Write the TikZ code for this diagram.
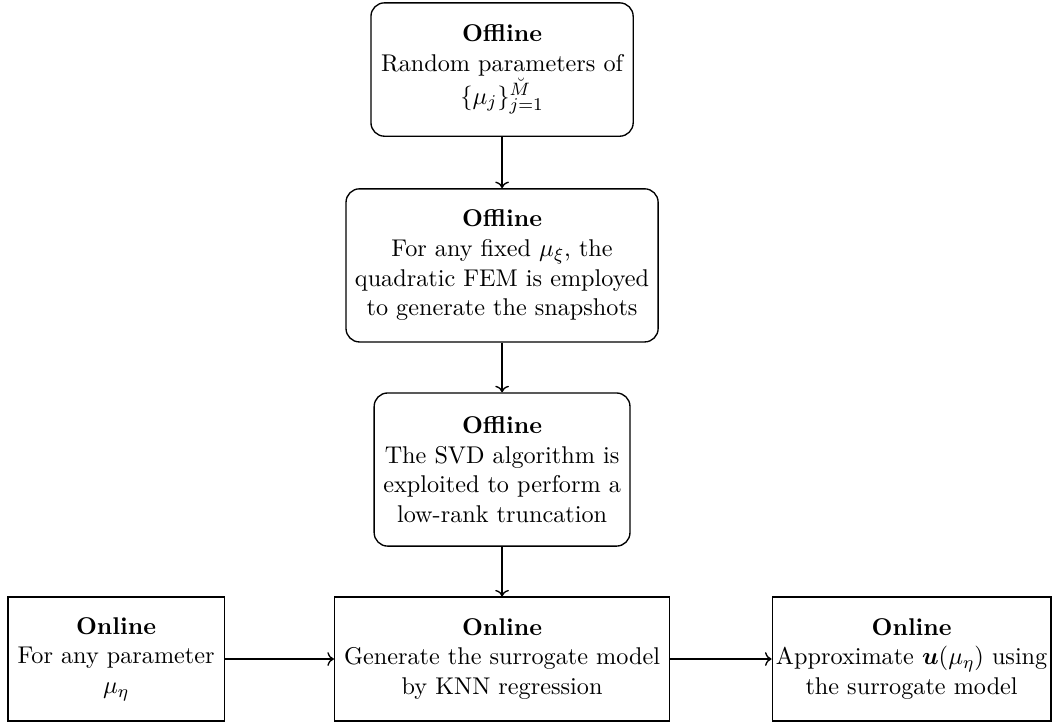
\documentclass[tikz,border=0pt]{standalone}
\usepackage{amsmath, amssymb}
\usetikzlibrary{arrows.meta, positioning}
\tikzset{
  offbox/.style = {draw, semithick, rounded corners=6pt, align=center,
                   inner sep=4pt, font=\fontsize{10.8}{13.2}\selectfont},
  onbox/.style  = {draw, semithick, align=center, inner sep=4pt,
                   inner xsep=1pt, font=\fontsize{10.8}{13.2}\selectfont},
  arrow/.style  = {->, semithick},
}
\begin{document}
\begin{tikzpicture}
  \useasboundingbox (0,0) rectangle (16.60,-11.37);
  % offline stage
  \node[offbox, minimum width=4.11cm, minimum height=2.09cm] (rand) at (7.87,-1.09)
    {\textbf{Offline}\\Random parameters of\\$\{\mu_j\}_{j=1}^{\breve{M}}$};
  \node[offbox, minimum width=4.89cm, minimum height=2.40cm] (fem) at (7.87,-4.16)
    {\textbf{Offline}\\For any fixed $\mu_{\xi}$, the\\quadratic FEM is employed\\to generate the snapshots};
  \node[offbox, minimum width=4.01cm, minimum height=2.40cm] (svd) at (7.87,-7.36)
    {\textbf{Offline}\\The SVD algorithm is\\exploited to perform a\\low-rank truncation};
  % online stage
  \node[onbox, minimum width=3.39cm, minimum height=1.94cm] (param) at (1.82,-10.33)
    {\textbf{Online}\\For any parameter\\$\mu_{\eta}$};
  \node[onbox, minimum width=5.25cm, minimum height=1.94cm] (knn) at (7.87,-10.33)
    {\textbf{Online}\\Generate the surrogate model\\by KNN regression};
  \node[onbox, minimum width=4.37cm, minimum height=1.94cm] (approx) at (14.29,-10.33)
    {\textbf{Online}\\Approximate $\boldsymbol{u}(\mu_{\eta})$ using\\the surrogate model};
  % connectors
  \draw[arrow] (rand) -- (fem);
  \draw[arrow] (fem) -- (svd);
  \draw[arrow] (svd) -- (knn);
  \draw[arrow] (param) -- (knn);
  \draw[arrow] (knn) -- (approx);
\end{tikzpicture}
\end{document}
